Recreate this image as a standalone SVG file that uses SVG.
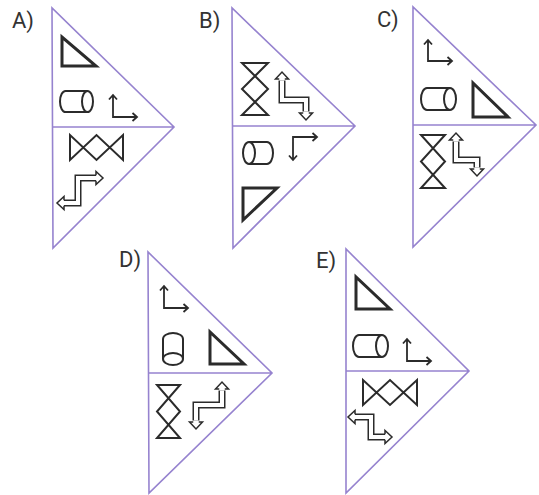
<svg xmlns="http://www.w3.org/2000/svg" width="539" height="495" viewBox="0 0 539 495">
<style>
.frame{fill:none;stroke:#9683cf;stroke-width:1.6;stroke-linejoin:miter}
.lbl{font-family:Roboto,"Liberation Sans",sans-serif;font-size:22px;fill:#333}
.tri{fill:none;stroke:#2b2b2b;stroke-width:3;stroke-linejoin:miter}
.hg{fill:none;stroke:#2b2b2b;stroke-width:2;stroke-linejoin:miter}
.cyl{fill:none;stroke:#2b2b2b;stroke-width:2}
.thin{fill:none;stroke:#2b2b2b;stroke-width:1.8;stroke-linejoin:miter}
.po{fill:none;stroke:#2b2b2b;stroke-width:7;stroke-linejoin:miter}
.pi{fill:none;stroke:#fff;stroke-width:4;stroke-linejoin:miter}
.hd{fill:#fff;stroke:#2b2b2b;stroke-width:1.5;stroke-linejoin:miter}
</style>
<rect width="539" height="495" fill="#fff"/>

<g id="optA">
<text class="lbl" x="12" y="28">A)</text>
<path class="frame" d="M52,8 L53,248 L174,127 Z M52.5,127 H174"/>
<polygon class="tri" points="62,37 62,66 96,66"/>
<path class="cyl" d="M87.5,91 H65.5 A5.5,10.5 0 0 0 65.5,112 H87.5"/>
<ellipse class="cyl" cx="87.5" cy="101.5" rx="5.5" ry="10.5"/>
<path class="thin" d="M113,95 V117 H137 M109,99.5 L113,95 L117,99.5 M132.5,113 L137,117 L132.5,121"/>
<polygon class="hg" points="70,135 70,160 96.5,135 123,160 123,135 96.5,160"/>
<path class="po" d="M62.5,203 H78 V178 H97.5"/>
<path class="pi" d="M62.5,203 H78 V178 H97.5"/>
<path class="hd" d="M64,205.75 L64,209.5 L57,203 L64,196.5 L64,200.25"/>
<path class="hd" d="M96,175.25 L96,171.5 L103,178 L96,184.5 L96,180.75"/>
</g>

<g id="optB">
<text class="lbl" x="199" y="28">B)</text>
<path class="frame" d="M232,8 L233,248 L355,126 Z M232.5,126 H355"/>
<polygon class="hg" points="242,63 268,63 242,89 268,115 242,115 268,89"/>
<path class="po" d="M282,80.5 V100 H306 V111.5"/>
<path class="pi" d="M282,80.5 V100 H306 V111.5"/>
<path class="hd" d="M279.25,79 L275.5,79 L282,72 L288.5,79 L284.75,79"/>
<path class="hd" d="M303.25,113 L299.5,113 L306,120 L312.5,113 L308.75,113"/>
<path class="cyl" d="M249,142 H267 A6,11 0 0 1 267,164 H249"/>
<ellipse class="cyl" cx="249" cy="153" rx="6" ry="11"/>
<path class="thin" d="M293,160 V137 H317 M289,155.5 L293,160 L297,155.5 M312.5,133 L317,137 L312.5,141"/>
<polygon class="tri" points="243,188 277,188 243,220"/>
</g>

<g id="optC">
<text class="lbl" x="377" y="27">C)</text>
<path class="frame" d="M413,7 L413,247 L536,125 Z M413,125 H536"/>
<path class="thin" d="M428,40 V61 H452 M424,44.5 L428,40 L432,44.5 M447.5,57 L452,61 L447.5,65"/>
<path class="cyl" d="M450,88 H427 A6,11 0 0 0 427,110 H450"/>
<ellipse class="cyl" cx="450" cy="99" rx="6" ry="11"/>
<polygon class="tri" points="473,83 473,117 508,117"/>
<polygon class="hg" points="421,135 445,135 421,161.5 445,188 421,188 445,161.5"/>
<path class="po" d="M456,141.5 V160 H477 V167.5"/>
<path class="pi" d="M456,141.5 V160 H477 V167.5"/>
<path class="hd" d="M453.25,140 L449.5,140 L456,133 L462.5,140 L458.75,140"/>
<path class="hd" d="M474.25,169 L470.5,169 L477,176 L483.5,169 L479.75,169"/>
</g>

<g id="optD">
<text class="lbl" x="119" y="267">D)</text>
<path class="frame" d="M148,252 L149,493 L272,373 Z M148.5,373 H272"/>
<path class="thin" d="M164,286 V308 H188 M160,290.5 L164,286 L168,290.5 M183.5,304 L188,308 L183.5,312"/>
<path class="cyl" d="M163,359 V339 A10,6 0 0 1 183,339 V359"/>
<ellipse class="cyl" cx="173" cy="359" rx="10" ry="6"/>
<polygon class="tri" points="210,332 210,364 244,364"/>
<polygon class="hg" points="157,385 180,385 157,411.5 180,438 157,438 180,411.5"/>
<path class="po" d="M222,390.5 V405 H196 V420.5"/>
<path class="pi" d="M222,390.5 V405 H196 V420.5"/>
<path class="hd" d="M219.25,389 L215.5,389 L222,382 L228.5,389 L224.75,389"/>
<path class="hd" d="M193.25,422 L189.5,422 L196,429 L202.5,422 L198.75,422"/>
</g>

<g id="optE">
<text class="lbl" x="316" y="268">E)</text>
<path class="frame" d="M346,249 L346,493 L469,371 Z M346,371 H469"/>
<polygon class="tri" points="356,277 356,309 390,309"/>
<path class="cyl" d="M382,335 H359 A6,11 0 0 0 359,357 H382"/>
<ellipse class="cyl" cx="382" cy="346" rx="6" ry="11"/>
<path class="thin" d="M407,339 V361 H431 M403,343.5 L407,339 L411,343.5 M426.5,357 L431,361 L426.5,365"/>
<polygon class="hg" points="363,380 363,405 390,380 417,405 417,380 390,405"/>
<path class="po" d="M353.5,417 H371 V437 H386.5"/>
<path class="pi" d="M353.5,417 H371 V437 H386.5"/>
<path class="hd" d="M355,419.75 L355,423.5 L348,417 L355,410.5 L355,414.25"/>
<path class="hd" d="M385,434.25 L385,430.5 L392,437 L385,443.5 L385,439.75"/>
</g>
</svg>
